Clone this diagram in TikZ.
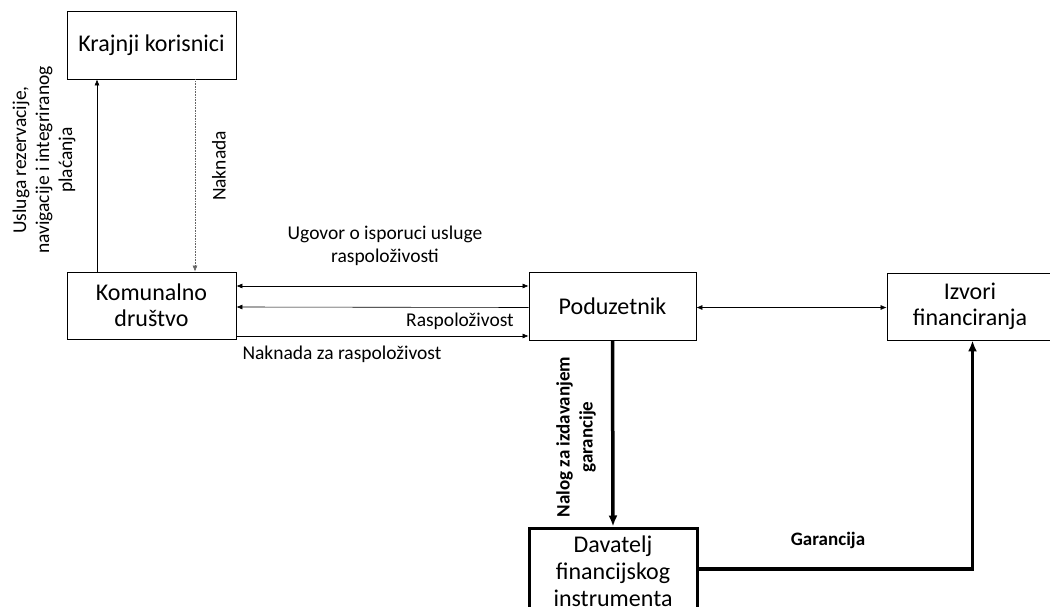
\documentclass[tikz,border=0pt]{standalone}
\usepackage{fontspec}
\setmainfont{Carlito}
\usetikzlibrary{arrows.meta}
\begin{document}
\begin{tikzpicture}[x=1pt,y=-1pt,
  box/.style={draw,line width=0.8pt,align=center,inner sep=0pt,font=\fontsize{24}{26}\selectfont},
  thickbox/.style={draw,line width=3pt,align=center,inner sep=0pt,font=\fontsize{24}{27}\selectfont},
  lbl/.style={font=\fontsize{19.5}{23}\selectfont,align=center,inner sep=0pt},
  blbl/.style={font=\bfseries\fontsize{19}{23}\selectfont,align=center,inner sep=0pt},
  thin/.style={line width=0.6pt,-{Latex[length=6pt,width=5pt]}},
  thinb/.style={line width=0.6pt,{Latex[length=6pt,width=5pt]}-{Latex[length=6pt,width=5pt]}},
  heavy/.style={line width=3.5pt,-{Latex[length=11pt,width=9pt]}}]
\useasboundingbox (0,0) rectangle (1050,607);
\fill[white] (0,0) rectangle (1050,607);
\node[box,minimum width=169pt,minimum height=68pt] (kk) at (151.5,45) {Krajnji korisnici};
\node[box,minimum width=169pt,minimum height=67pt] (kom) at (151.5,305.5) {Komunalno\\društvo};
\node[box,minimum width=167pt,minimum height=68pt] (pod) at (612.5,306) {Poduzetnik};
\node[box,minimum width=166pt,minimum height=67pt] (izv) at (970,306.5) {Izvori\\financiranja};
\node[thickbox,minimum width=168pt,minimum height=86pt] (dav) at (613,571) {Davatelj\\financijskog\\instrumenta};
% vertical connectors
\draw[thin] (kom.north -| 97,0) -- (kk.south -| 97,0);
\draw[thin,densely dotted,gray!80!black] (kk.south -| 195,0) -- (kom.north -| 195,0);
\node[lbl,rotate=90] (l1) at (44,160) {Usluga rezervacije,\\navigacije i integriranog\\plaćanja};
\node[lbl,rotate=90] (l2) at (219,166) {Naknada};
% horizontal connectors
\draw[thinb] ([yshift=19.5pt]kom.east) -- ([yshift=20pt]pod.west);
\node[lbl] (l3) at (385,246) {Ugovor o isporuci usluge\\raspoloživosti};
\draw[thin] ([yshift=-1.5pt]pod.west) -- ([yshift=-1.5pt]kom.east);
\node[lbl,anchor=east] (l4) at (514,321) {Raspoloživost};
\draw[thin] ([yshift=-30.5pt]kom.east) -- ([yshift=-30pt]pod.west);
\node[lbl] (l5) at (342,354) {Naknada za raspoloživost};
\draw[thinb] ([yshift=-1.5pt]pod.east) -- ([yshift=-1pt]izv.west);
% thick connectors
\draw[heavy] (pod.south) -- (dav.north);
\node[blbl,rotate=90] (l6) at (576,437) {Nalog za izdavanjem\\garancije};
\draw[heavy] ([yshift=2pt]dav.east) -| ([xshift=2.5pt]izv.south);
\node[blbl] (l7) at (828,540) {Garancija};
\end{tikzpicture}
\end{document}
